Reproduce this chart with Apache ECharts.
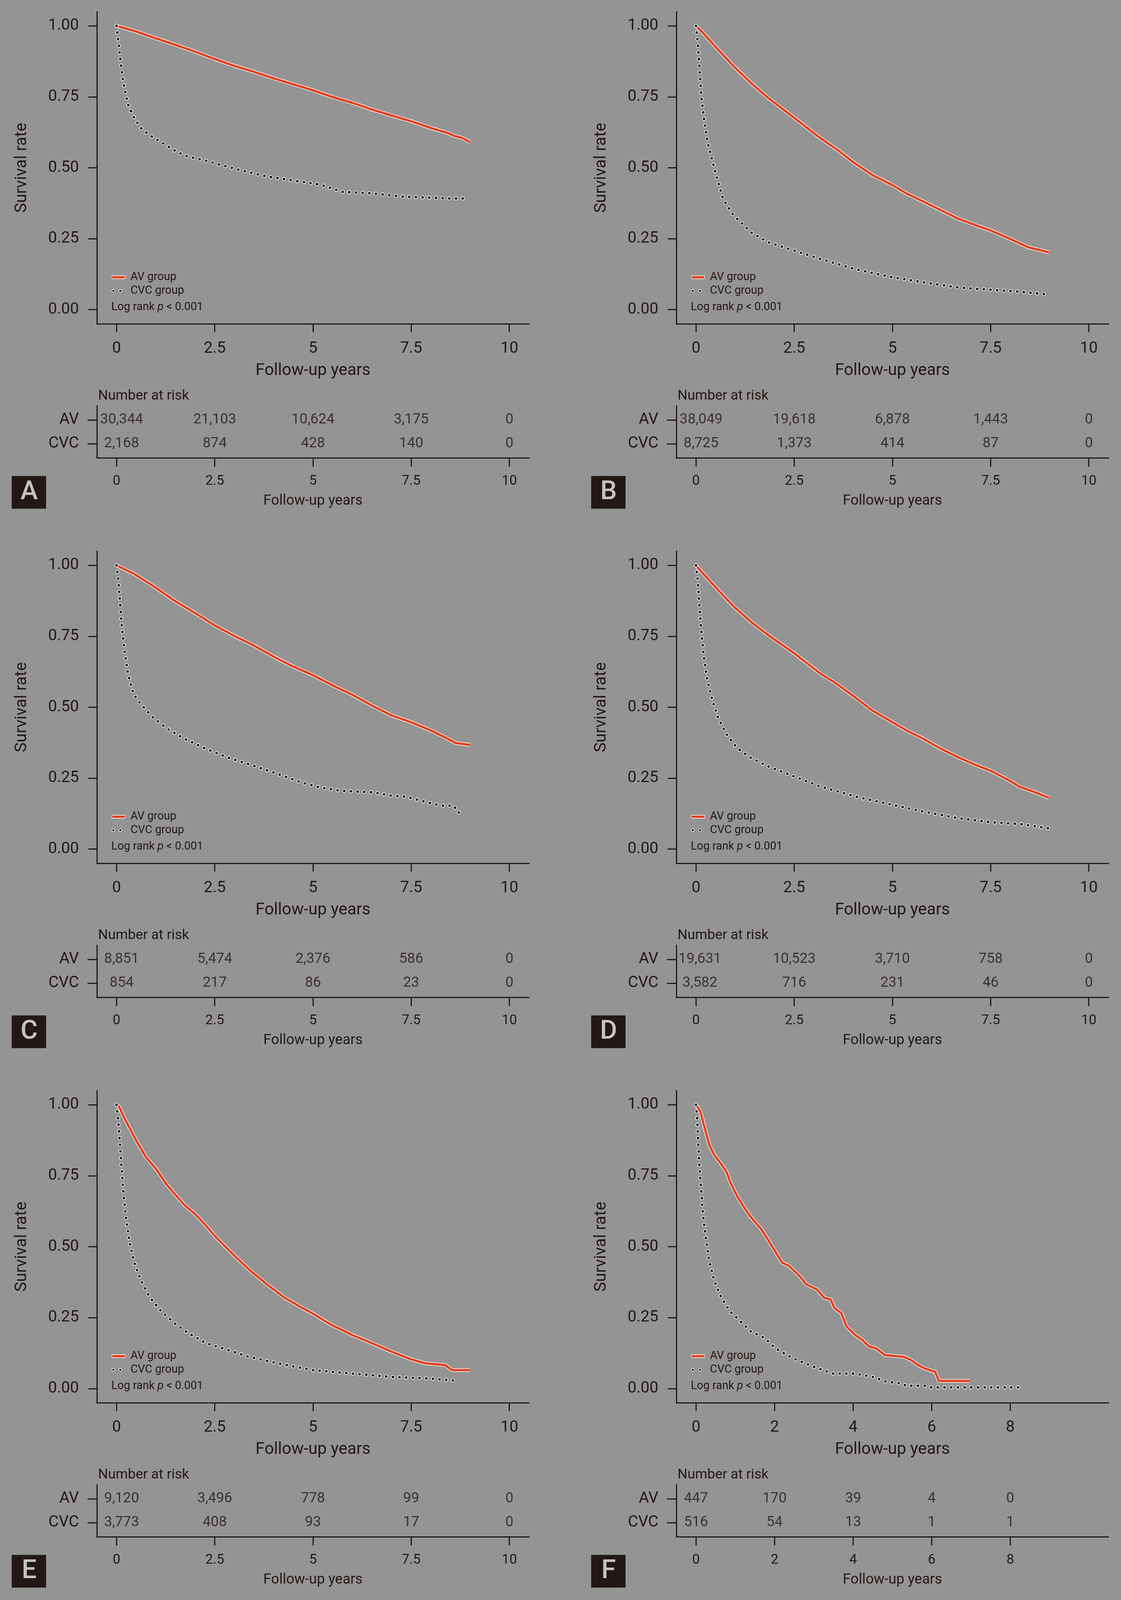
<!DOCTYPE html>
<html>
<head>
<meta charset="utf-8">
<script src="https://cdn.jsdelivr.net/npm/echarts@6.0.0/dist/echarts.min.js"></script>
<style>
  html, body { margin: 0; padding: 0; background: #949494; overflow: hidden; }
  #km { width: 100vw; height: 100vh; }
</style>
</head>
<body>
<div id="km"></div>
<script>
// survival curves, [years, survival]
const avA = [[0,1.0],[0.5,0.98],[1,0.956],[1.5,0.933],[2,0.909],[2.5,0.883],[3,0.859],[3.5,0.838],[4,0.815],[4.5,0.794],[5,0.773],[5.5,0.749],[6,0.729],[6.5,0.705],[7,0.684],[7.5,0.664],[8,0.64],[8.4,0.624],[8.6,0.612],[8.8,0.605],[9,0.59]]
const cvcA = [[0,1.0],[0.05,0.94],[0.1,0.88],[0.15,0.82],[0.2,0.78],[0.3,0.72],[0.45,0.675],[0.65,0.635],[0.9,0.61],[1.2,0.585],[1.55,0.555],[1.8,0.54],[2.3,0.524],[2.65,0.51],[3.2,0.49],[3.8,0.47],[4.5,0.455],[5.2,0.44],[5.75,0.415],[6.5,0.41],[7.3,0.398],[7.9,0.395],[8.45,0.392],[8.95,0.392]]

const avB = [[0,1.0],[0.16,0.978],[0.51,0.924],[0.95,0.859],[1.39,0.8],[1.83,0.747],[2.5,0.676],[3.16,0.605],[3.6,0.563],[4.04,0.516],[4.48,0.475],[5,0.439],[5.36,0.409],[5.8,0.38],[6.24,0.35],[6.68,0.32],[7.13,0.297],[7.5,0.279],[8,0.249],[8.45,0.22],[8.98,0.202]]
const cvcB = [[0,1.0],[0.04,0.948],[0.09,0.853],[0.13,0.759],[0.2,0.676],[0.29,0.593],[0.42,0.522],[0.56,0.451],[0.69,0.39],[0.95,0.333],[1.22,0.297],[1.39,0.273],[1.83,0.238],[2.5,0.208],[3.16,0.179],[4.04,0.143],[5,0.114],[5.8,0.096],[6.68,0.078],[7.5,0.07],[8.27,0.063],[8.98,0.053]]

const avC = [[0,1.0],[0.47,0.968],[1,0.921],[1.5,0.873],[2,0.832],[2.5,0.788],[3,0.751],[3.5,0.717],[4,0.678],[4.5,0.643],[5,0.613],[5.5,0.577],[6,0.544],[6.5,0.506],[7,0.471],[7.5,0.447],[8,0.418],[8.36,0.394],[8.63,0.374],[9,0.367]]
const cvcC = [[0,1.0],[0.045,0.95],[0.09,0.867],[0.136,0.784],[0.2,0.701],[0.29,0.618],[0.43,0.547],[0.61,0.512],[0.92,0.465],[1.29,0.424],[1.74,0.388],[2.28,0.353],[2.83,0.323],[3.37,0.299],[4,0.27],[4.73,0.234],[5.19,0.217],[5.73,0.205],[6.55,0.2],[7,0.188],[7.36,0.185],[7.9,0.165],[8.27,0.153],[8.59,0.153],[8.68,0.129],[8.86,0.129]]

const avD = [[0,1.0],[0.16,0.974],[0.51,0.921],[0.95,0.856],[1.39,0.802],[1.83,0.755],[2.5,0.69],[3.16,0.619],[3.51,0.589],[4.04,0.536],[4.48,0.489],[5,0.447],[5.36,0.418],[5.8,0.388],[6.24,0.353],[6.68,0.323],[7.13,0.296],[7.5,0.276],[8,0.24],[8.23,0.22],[8.62,0.201],[8.98,0.181]]
const cvcD = [[0,1.0],[0.044,0.95],[0.088,0.855],[0.14,0.76],[0.2,0.677],[0.29,0.594],[0.42,0.523],[0.56,0.464],[0.78,0.404],[1.04,0.357],[1.39,0.322],[1.83,0.292],[2.5,0.256],[3.16,0.221],[4.04,0.186],[5,0.156],[5.8,0.132],[6.68,0.109],[7.5,0.095],[8.27,0.088],[8.98,0.073]]

const avE = [[0,1.0],[0.06,0.994],[0.2,0.953],[0.47,0.882],[0.74,0.817],[1,0.775],[1.29,0.716],[1.74,0.645],[2,0.615],[2.28,0.574],[2.5,0.538],[2.92,0.479],[3.37,0.42],[3.83,0.367],[4.28,0.32],[4.73,0.284],[5,0.264],[5.46,0.225],[6,0.189],[6.5,0.16],[7,0.13],[7.5,0.103],[7.86,0.089],[8.36,0.083],[8.54,0.065],[9,0.065]]
const cvcE = [[0,1.0],[0.045,0.941],[0.09,0.858],[0.136,0.763],[0.18,0.68],[0.245,0.598],[0.335,0.515],[0.45,0.444],[0.61,0.385],[0.83,0.325],[1.1,0.278],[1.47,0.231],[1.83,0.195],[2.28,0.16],[2.83,0.136],[3.37,0.112],[4.1,0.089],[5,0.065],[6,0.053],[7,0.041],[7.9,0.036],[8.72,0.027]]

const avF = [[0,1.0],[0.115,0.976],[0.2,0.929],[0.34,0.858],[0.47,0.822],[0.6,0.799],[0.78,0.763],[0.87,0.728],[1.04,0.68],[1.22,0.639],[1.4,0.604],[1.66,0.562],[1.93,0.503],[2.19,0.444],[2.37,0.432],[2.64,0.396],[2.81,0.367],[3.08,0.349],[3.26,0.32],[3.43,0.314],[3.52,0.284],[3.7,0.266],[3.83,0.219],[4.05,0.189],[4.23,0.172],[4.41,0.148],[4.58,0.142],[4.81,0.118],[5.29,0.112],[5.47,0.101],[5.65,0.083],[5.82,0.071],[6.09,0.059],[6.18,0.027],[6.97,0.027]]
const cvcF = [[0,1.0],[0.027,0.959],[0.053,0.876],[0.088,0.781],[0.133,0.698],[0.177,0.615],[0.248,0.533],[0.336,0.45],[0.469,0.379],[0.646,0.32],[0.867,0.272],[1.13,0.237],[1.4,0.201],[1.75,0.178],[2.02,0.142],[2.46,0.107],[2.99,0.077],[3.48,0.053],[4.05,0.053],[4.5,0.041],[4.85,0.024],[5.25,0.018],[5.34,0.01],[5.82,0.01],[6,0.004],[8.21,0.004]]

// number at risk tables
const times10 = [0, 2.5, 5, 7.5, 10]
const timesF = [0, 2, 4, 6, 8]
const riskAvA = [30344, 21103, 10624, 3175, 0]
const riskCvcA = [2168, 874, 428, 140, 0]
const riskAvB = [38049, 19618, 6878, 1443, 0]
const riskCvcB = [8725, 1373, 414, 87, 0]
const riskAvC = [8851, 5474, 2376, 586, 0]
const riskCvcC = [854, 217, 86, 23, 0]
const riskAvD = [19631, 10523, 3710, 758, 0]
const riskCvcD = [3582, 716, 231, 46, 0]
const riskAvE = [9120, 3496, 778, 99, 0]
const riskCvcE = [3773, 408, 93, 17, 0]
const riskAvF = [447, 170, 39, 4, 0]
const riskCvcF = [516, 54, 13, 1, 1]

const yTicks = [0, 0.25, 0.5, 0.75, 1]

const INK = "#231815"
const RED = "#E0401E"
const FONT = "Roboto, 'Noto Sans', sans-serif"

const panels = [
    { key: "A", ox: 0,    oy: 0,    av: avA, cvc: cvcA, times: times10, rAv: riskAvA, rCvc: riskCvcA, shift: 13 },
    { key: "B", ox: 1483, oy: 0,    av: avB, cvc: cvcB, times: times10, rAv: riskAvB, rCvc: riskCvcB, shift: 13 },
    { key: "C", ox: 0,    oy: 1436, av: avC, cvc: cvcC, times: times10, rAv: riskAvC, rCvc: riskCvcC, shift: 13 },
    { key: "D", ox: 1483, oy: 1436, av: avD, cvc: cvcD, times: times10, rAv: riskAvD, rCvc: riskCvcD, shift: 10 },
    { key: "E", ox: 0,    oy: 2872, av: avE, cvc: cvcE, times: times10, rAv: riskAvE, rCvc: riskCvcE, shift: 13 },
    { key: "F", ox: 1483, oy: 2872, av: avF, cvc: cvcF, times: timesF,  rAv: riskAvF, rCvc: riskCvcF, shift: 0 }
]

// layout is written for a 2869 x 4259 page; scale to whatever the viewport really is
const el = document.getElementById("km")
const sx = el.clientWidth / 2869
const sy = el.clientHeight / 4259
const X = v => v * sx
const Y = v => v * sy
const F = v => v * Math.min(sx, sy)

const fmt = n => n.toLocaleString("en-US")
const txt = (size, extra) => Object.assign({ fontSize: F(size), color: INK, fontFamily: FONT }, extra || {})

const grid = [], xAxis = [], yAxis = [], series = [], graphic = []

panels.forEach((p, i) => {
    const g = i * 2
    grid.push(
        { left: X(p.ox + 248), top: Y(p.oy + 31), width: X(1106), height: Y(831), outerBoundsMode: "none" },
        { left: X(p.ox + 248), top: Y(p.oy + 1080), width: X(1106), height: Y(139), outerBoundsMode: "none" }
    )

    const line = { show: true, onZero: false, lineStyle: { color: INK, width: 3 } }
    const tick = (vals, len) => ({ show: true, length: len, customValues: vals, lineStyle: { color: INK, width: 3 } })

    xAxis.push({
        gridIndex: g, type: "value", min: -0.5, max: 10.5,
        axisLine: line, axisTick: tick(p.times, Y(22)), splitLine: { show: false },
        axisLabel: txt(42, { customValues: p.times, formatter: v => String(v), margin: Y(46) }),
        name: "Follow-up years", nameLocation: "middle", nameGap: Y(103),
        nameTextStyle: txt(44)
    }, {
        gridIndex: g + 1, type: "value", min: -0.5, max: 10.5,
        axisLine: line, axisTick: tick(p.times, Y(23)), splitLine: { show: false },
        axisLabel: txt(36, { customValues: p.times, formatter: v => String(v), margin: Y(44) }),
        name: "Follow-up years", nameLocation: "middle", nameGap: Y(96),
        nameTextStyle: txt(38)
    })

    yAxis.push({
        gridIndex: g, type: "value", min: -0.05, max: 1.05,
        axisLine: line, axisTick: tick(yTicks, X(22)), splitLine: { show: false },
        axisLabel: txt(42, { customValues: yTicks, formatter: v => v.toFixed(2), margin: X(46) }),
        name: "Survival rate", nameLocation: "middle", nameGap: X(171),
        nameTextStyle: txt(44)
    }, {
        gridIndex: g + 1, type: "value", min: -0.6, max: 1.6,
        axisLine: line, axisTick: tick([0, 1], X(24)), splitLine: { show: false },
        axisLabel: txt(42, { customValues: [0, 1], formatter: v => (v > 0.5 ? "AV" : "CVC"), margin: X(46) })
    })

    // AV: red line with thin white edge
    series.push({
        type: "line", xAxisIndex: g, yAxisIndex: g, data: p.av, showSymbol: false, silent: true,
        lineStyle: { color: "#ffffff", width: 9 }
    }, {
        type: "line", xAxisIndex: g, yAxisIndex: g, data: p.av, showSymbol: false, silent: true,
        lineStyle: { color: RED, width: 6 }
    })
    // CVC: black dots with white halo
    series.push({
        type: "line", xAxisIndex: g, yAxisIndex: g, data: p.cvc, showSymbol: false, silent: true,
        lineStyle: { color: "#ffffff", width: 10, type: [0.1, 17], cap: "round" }
    }, {
        type: "line", xAxisIndex: g, yAxisIndex: g, data: p.cvc, showSymbol: false, silent: true,
        lineStyle: { color: "#111111", width: 6.5, type: [0.1, 17], cap: "round" }
    })

    // risk table numbers
    const rows = []
    p.times.forEach((t, k) => {
        const off = k === 0 ? [X(p.shift), 0] : [0, 0]
        rows.push({ value: [t, 1, p.rAv[k]], label: { offset: off } })
        rows.push({ value: [t, 0, p.rCvc[k]], label: { offset: off } })
    })
    series.push({
        type: "scatter", xAxisIndex: g + 1, yAxisIndex: g + 1, data: rows, symbolSize: 1, silent: true,
        itemStyle: { color: "rgba(0,0,0,0)" },
        label: txt(38, { show: true, position: "inside", formatter: d => fmt(d.value[2]) })
    })

    // legend, log-rank note, risk title, panel letter
    const t = (x, y, text, size, extra) => ({
        type: "text", x: X(p.ox + x), y: Y(p.oy + y),
        style: Object.assign({ text, fill: INK, fontSize: F(size), fontFamily: FONT, verticalAlign: "middle" }, extra || {})
    })
    graphic.push(
        { type: "line", shape: { x1: X(p.ox + 286), y1: Y(p.oy + 738), x2: X(p.ox + 321), y2: Y(p.oy + 738) }, style: { stroke: "#ffffff", lineWidth: 9 } },
        { type: "line", shape: { x1: X(p.ox + 287), y1: Y(p.oy + 738), x2: X(p.ox + 320), y2: Y(p.oy + 738) }, style: { stroke: RED, lineWidth: 6 } },
        { type: "circle", shape: { cx: X(p.ox + 290), cy: Y(p.oy + 774), r: 3.4 }, style: { fill: "#111111", stroke: "#ffffff", lineWidth: 1.6 } },
        { type: "circle", shape: { cx: X(p.ox + 308), cy: Y(p.oy + 774), r: 3.4 }, style: { fill: "#111111", stroke: "#ffffff", lineWidth: 1.6 } },
        t(334, 738, "AV group", 30),
        t(334, 774, "CVC group", 30),
        t(285, 818, "Log rank {i|p} < 0.001", 30, {
            rich: { i: { fontStyle: "italic", fontSize: F(30), fontFamily: FONT, fill: INK } }
        }),
        t(251, 1054, "Number at risk", 37),
        { type: "rect", shape: { x: X(p.ox + 30), y: Y(p.oy + 1267), width: X(88), height: Y(87) }, style: { fill: INK } },
        t(74.5, 1311, p.key, 70, { fill: "#c4c4c4", fontWeight: 500, align: "center" })
    )
})

const chart = echarts.init(el, null, { renderer: "canvas" })
chart.setOption({
    animation: false,
    backgroundColor: "#949494",
    grid, xAxis, yAxis, series, graphic
})
</script>
</body>
</html>
